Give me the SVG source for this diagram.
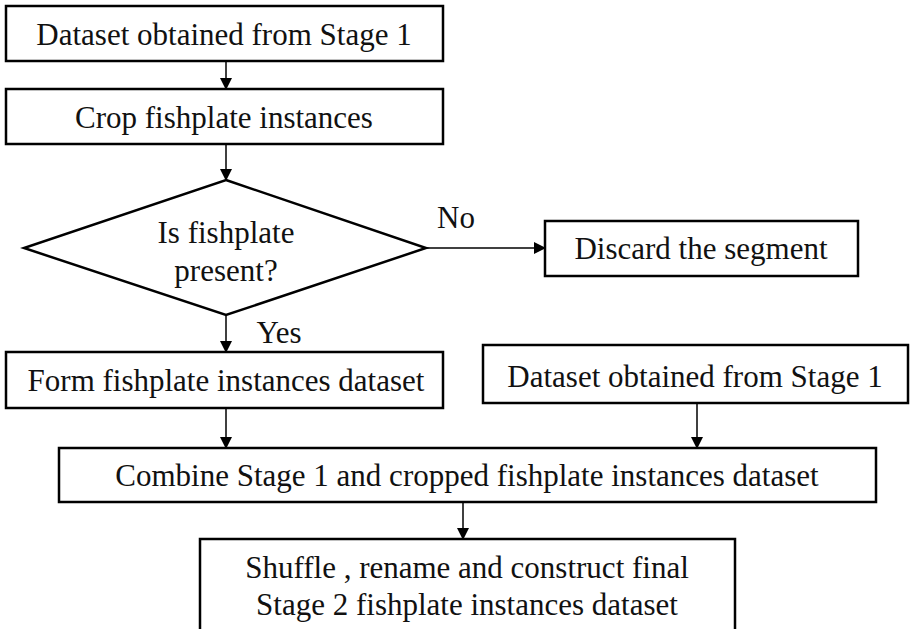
<svg xmlns="http://www.w3.org/2000/svg" width="911" height="629" viewBox="0 0 911 629">
<defs>
<marker id="ah" markerWidth="12" markerHeight="12" refX="11" refY="6" orient="auto" markerUnits="userSpaceOnUse">
<path d="M0,0 L12,6 L0,12 Z" fill="#000"/>
</marker>
<style>
.box{fill:#fff;stroke:#000;stroke-width:2.5}
.t{font-family:"Liberation Serif","Times New Roman",serif;font-size:31px;fill:#111;text-anchor:middle;dominant-baseline:central}
.c{stroke:#000;stroke-width:1.5;fill:none;marker-end:url(#ah)}
</style>
</defs>
<rect width="911" height="629" fill="#fff"/>
<g id="connectors">
<line class="c" x1="226" y1="62" x2="226" y2="89"/>
<line class="c" x1="226" y1="144" x2="226" y2="180"/>
<line class="c" x1="426" y1="248" x2="545" y2="248"/>
<line class="c" x1="226" y1="315" x2="226" y2="352"/>
<line class="c" x1="226" y1="408" x2="226" y2="448"/>
<line class="c" x1="697" y1="403" x2="697" y2="448"/>
<line class="c" x1="463" y1="502" x2="463" y2="539"/>
<text class="t" x="456" y="217">No</text>
<text class="t" x="279" y="332">Yes</text>
</g>
<g id="n1"><rect class="box" x="6" y="6" width="437" height="55"/><text class="t" x="224" y="34">Dataset obtained from Stage 1</text></g>
<g id="n2"><rect class="box" x="6" y="89" width="437" height="55"/><text class="t" x="224" y="117">Crop fishplate instances</text></g>
<g id="n3"><polygon class="box" points="226,180 426,248 226,315 24,248"/><text class="t" x="226" y="232">Is fishplate</text><text class="t" x="226" y="270">present?</text></g>
<g id="n4"><rect class="box" x="545" y="221" width="313" height="55"/><text class="t" x="701" y="248">Discard the segment</text></g>
<g id="n5"><rect class="box" x="6" y="352" width="437" height="56"/><text class="t" x="226" y="380">Form fishplate instances dataset</text></g>
<g id="n6"><rect class="box" x="483" y="345" width="425" height="58"/><text class="t" x="695" y="376">Dataset obtained from Stage 1</text></g>
<g id="n7"><rect class="box" x="59" y="448" width="817" height="54"/><text class="t" x="467" y="475">Combine Stage 1 and cropped fishplate instances dataset</text></g>
<g id="n8"><rect class="box" x="200" y="539" width="535" height="110"/><text class="t" x="467" y="567">Shuffle , rename and construct final</text><text class="t" x="467" y="604">Stage 2 fishplate instances dataset</text></g>
</svg>
